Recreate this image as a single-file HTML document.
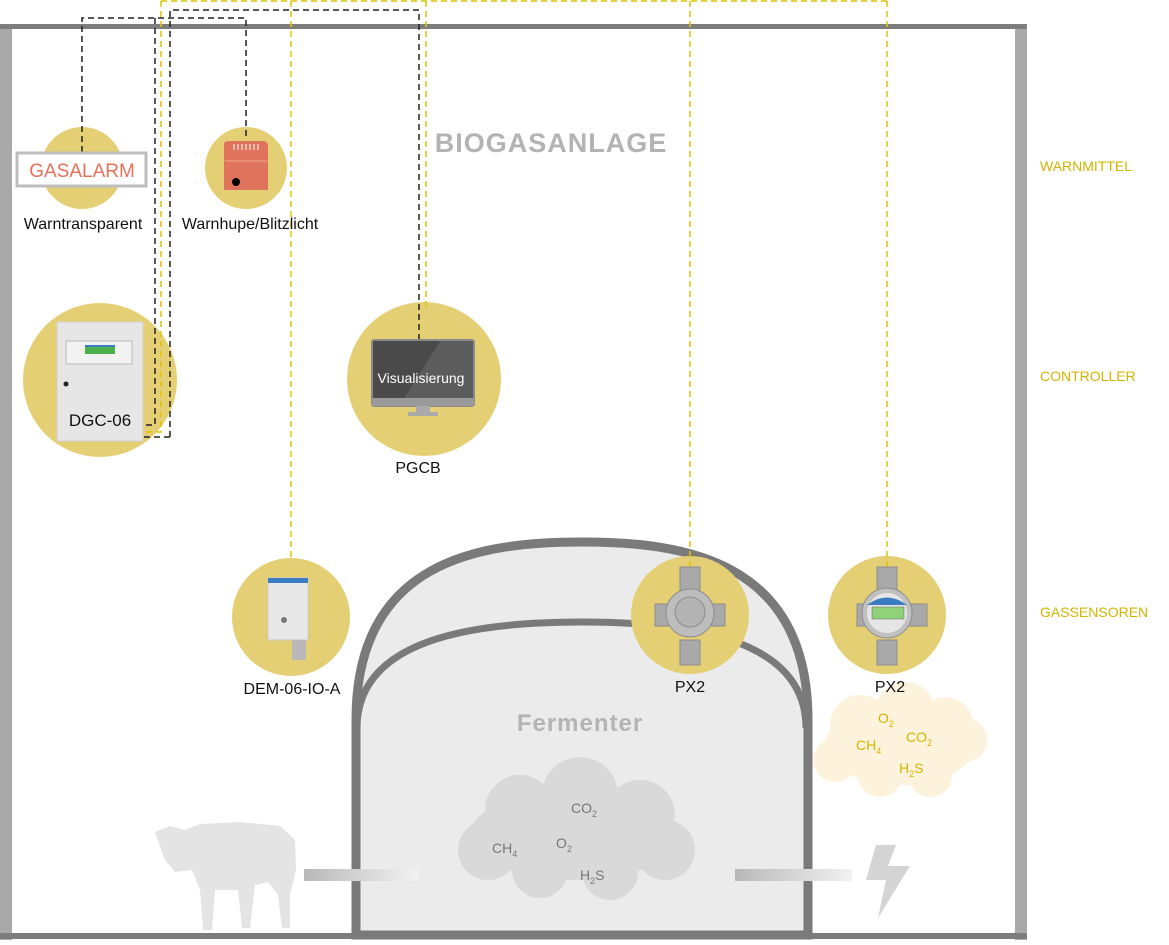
<!DOCTYPE html>
<html><head><meta charset="utf-8"><style>
body{margin:0;background:#fff;width:1169px;height:940px;overflow:hidden;font-family:"Liberation Sans","DejaVu Sans",sans-serif}
</style></head><body>
<svg width="1169" height="940" viewBox="0 0 1169 940" xmlns="http://www.w3.org/2000/svg" font-family="Liberation Sans, DejaVu Sans, sans-serif">
<rect x="0" y="26" width="12" height="914" fill="#a9a9a9"/>
<rect x="1015" y="26" width="12" height="914" fill="#a9a9a9"/>
<rect x="0" y="24" width="1027" height="5" fill="#7d7d7d"/>
<rect x="0" y="933" width="1027" height="6" fill="#7d7d7d"/>

<path d="M356 935 L356 720 C356 560 480 542 582 542 C684 542 808 560 808 720 L808 935 Z" fill="#ebebeb" stroke="#7a7a7a" stroke-width="9"/>
<path d="M357 728 C357 640 470 622 582 622 C694 622 806 640 806 728" fill="none" stroke="#7a7a7a" stroke-width="7"/>
<text x="580" y="731" font-size="24" font-weight="bold" fill="#b4b4b4" text-anchor="middle" letter-spacing="1">Fermenter</text>

<g fill="#d9d9d9">
<ellipse cx="575" cy="835" rx="105" ry="45"/>
<circle cx="520" cy="810" r="35"/><circle cx="580" cy="795" r="38"/><circle cx="640" cy="815" r="35"/>
<circle cx="488" cy="850" r="30"/><circle cx="665" cy="850" r="30"/><circle cx="540" cy="870" r="28"/><circle cx="610" cy="872" r="28"/>
</g>
<g fill="#777" font-size="14">
<text x="571" y="813">CO<tspan font-size="9" dy="4">2</tspan></text>
<text x="492" y="853">CH<tspan font-size="9" dy="4">4</tspan></text>
<text x="556" y="848">O<tspan font-size="9" dy="4">2</tspan></text>
<text x="580" y="880">H<tspan font-size="9" dy="4">2</tspan><tspan dy="-4">S</tspan></text>
</g>

<defs><linearGradient id="pg" x1="0" x2="1"><stop offset="0" stop-color="#b8b8b8"/><stop offset="1" stop-color="#f2f2f2"/></linearGradient></defs>
<rect x="304" y="869" width="114" height="12" fill="url(#pg)"/>
<rect x="735" y="869" width="117" height="12" fill="url(#pg)"/>
<path d="M876 845 L896 845 L888 866 L910 866 L878 918 L886 880 L866 880 Z" fill="#d4d4d4"/>
<g fill="#e4e4e4">
<path d="M155 832 L170 826 L185 830 L200 824 L240 822 L280 826 L295 840 L296 870 L290 895 L290 928 L282 928 L278 895 L268 882 L255 885 L250 928 L242 928 L238 890 L215 890 L212 930 L203 930 L200 890 L192 870 L175 872 L165 860 Z"/>
</g>

<g fill="#fdf3dc">
<ellipse cx="900" cy="745" rx="75" ry="40"/>
<circle cx="860" cy="725" r="30"/><circle cx="905" cy="712" r="30"/><circle cx="945" cy="725" r="28"/>
<circle cx="835" cy="760" r="22"/><circle cx="965" cy="740" r="22"/><circle cx="880" cy="775" r="22"/><circle cx="930" cy="775" r="22"/>
</g>
<g fill="#d4b400" font-size="14">
<text x="878" y="723">O<tspan font-size="9" dy="4">2</tspan></text>
<text x="906" y="742">CO<tspan font-size="9" dy="4">2</tspan></text>
<text x="856" y="750">CH<tspan font-size="9" dy="4">4</tspan></text>
<text x="899" y="773">H<tspan font-size="9" dy="4">2</tspan><tspan dy="-4">S</tspan></text>
</g>

<g fill="#e5cf75">
<circle cx="82" cy="168" r="41"/><circle cx="246" cy="168" r="41"/>
<circle cx="100" cy="380" r="77"/><circle cx="424" cy="379" r="77"/>
<circle cx="291" cy="617" r="59"/><circle cx="690" cy="615" r="59"/><circle cx="887" cy="615" r="59"/>
</g>

<g fill="none" stroke="#e0c300" stroke-width="1.5" stroke-dasharray="6,4">
<path d="M161 1 L887 1"/>
<path d="M161 1 L161 432 L143 432"/>
<path d="M291 1 L291 560"/>
<path d="M426 1 L426 310"/>
<path d="M690 1 L690 568"/>
<path d="M887 1 L887 568"/>
</g>
<g fill="none" stroke="#222" stroke-width="1.5" stroke-dasharray="6,4">
<path d="M82 152 L82 18 L246 18 L246 138"/>
<path d="M155 18 L155 425 L143 425"/>
<path d="M170 437 L143 437 M170 437 L170 10 L419 10 L419 340"/>
</g>

<rect x="17" y="153" width="129" height="33" fill="#fff" stroke="#bdbdbd" stroke-width="3"/>
<text x="82" y="177" font-size="19" fill="#e8705a" text-anchor="middle">GASALARM</text>
<path d="M224 144 Q224 141 229 141 L263 141 Q268 141 268 146 L268 190 L224 190 Z" fill="#df735b"/>
<line x1="225" y1="161" x2="267" y2="161" stroke="#f2a890" stroke-width="1"/>
<g stroke="#fff" stroke-width="1"><line x1="234" y1="144" x2="234" y2="150"/><line x1="238" y1="144" x2="238" y2="150"/><line x1="242" y1="144" x2="242" y2="150"/><line x1="246" y1="144" x2="246" y2="150"/><line x1="250" y1="144" x2="250" y2="150"/><line x1="254" y1="144" x2="254" y2="150"/><line x1="258" y1="144" x2="258" y2="150"/></g>
<circle cx="236" cy="182" r="4" fill="#000"/>

<rect x="57" y="322" width="86" height="119" fill="#e6e6e6" stroke="#d0d0d0"/>
<rect x="66" y="341" width="66" height="23" fill="#f2f2f2" stroke="#bbb"/>
<rect x="85" y="346" width="30" height="8" fill="#4cb04c"/>
<rect x="85" y="345" width="30" height="2" fill="#3a7cc0"/>
<circle cx="66" cy="384" r="2.5" fill="#222"/>
<text x="100" y="426" font-size="17" fill="#111" text-anchor="middle">DGC-06</text>

<rect x="372" y="340" width="102" height="66" rx="2" fill="#4a4a4a" stroke="#8a8a8a" stroke-width="2"/>
<path d="M440 341 L473 341 L473 405 L400 405 Z" fill="#5c5c5c"/>
<rect x="372" y="398" width="102" height="8" fill="#9a9a9a"/>
<rect x="416" y="406" width="14" height="7" fill="#aaa"/><rect x="408" y="412" width="30" height="4" fill="#aaa"/>
<text x="421" y="383" font-size="14" fill="#fff" text-anchor="middle">Visualisierung</text>

<rect x="268" y="578" width="40" height="62" fill="#e8e8e8" stroke="#ccc"/>
<rect x="268" y="578" width="40" height="5" fill="#3a7cc0"/>
<circle cx="284" cy="620" r="3" fill="#777"/>
<rect x="292" y="640" width="14" height="20" fill="#b9b9b9"/>

<g fill="#a9a9a9" stroke="#8c8c8c">
<rect x="680" y="567" width="20" height="25"/><rect x="680" y="640" width="20" height="25"/>
<rect x="655" y="604" width="70" height="22"/>
<circle cx="690" cy="613" r="24" fill="#bdbdbd"/>
<circle cx="690" cy="612" r="15" fill="#b3b3b3"/>
<rect x="877" y="567" width="20" height="25"/><rect x="877" y="640" width="20" height="25"/>
<rect x="857" y="604" width="70" height="22"/>
<circle cx="887" cy="613" r="25" fill="#c0c0c0"/>
</g>
<circle cx="887" cy="613" r="20" fill="#e6e6e6"/>
<path d="M867 605 Q887 590 907 605 Z" fill="#3a7cc0"/>
<rect x="872" y="607" width="32" height="12" fill="#8fd27a" stroke="#666" stroke-width="0.5"/>

<g font-size="16" fill="#111" text-anchor="middle">
<text x="83" y="229">Warntransparent</text>
<text x="250" y="229">Warnhupe/Blitzlicht</text>
<text x="418" y="473">PGCB</text>
<text x="292" y="694">DEM-06-IO-A</text>
<text x="690" y="692">PX2</text>
<text x="890" y="692">PX2</text>
</g>
<text x="551" y="152" font-size="27" font-weight="bold" fill="#b3b3b3" text-anchor="middle" letter-spacing="1">BIOGASANLAGE</text>
<g font-size="14" fill="#d4b400">
<text x="1040" y="171">WARNMITTEL</text>
<text x="1040" y="381">CONTROLLER</text>
<text x="1040" y="617">GASSENSOREN</text>
</g>
</svg>
</body></html>
